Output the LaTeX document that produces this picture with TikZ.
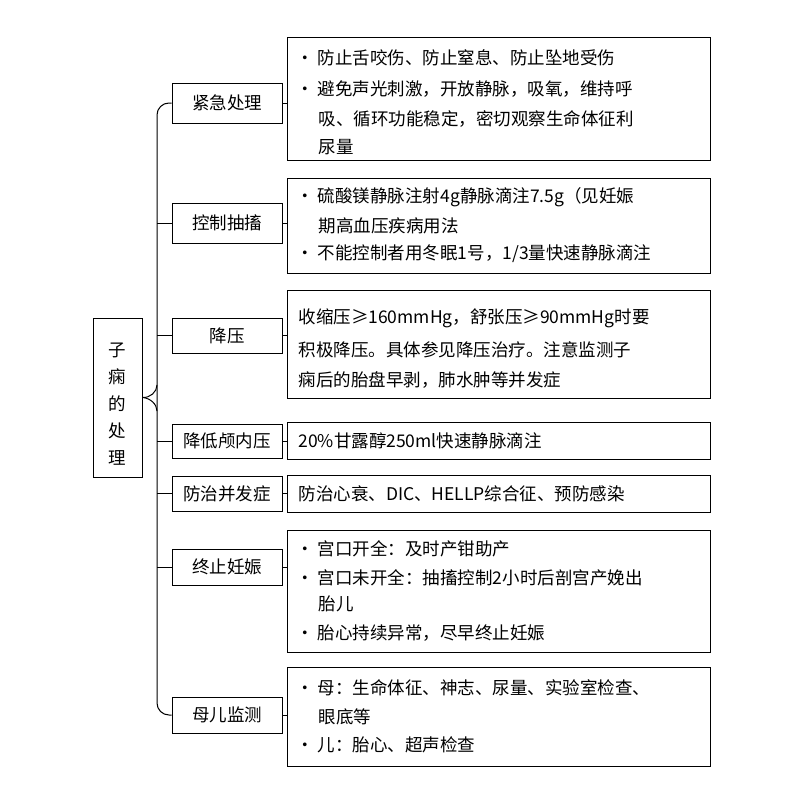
\documentclass[tikz,border=0pt]{standalone}
\usepackage{fontspec}
\setmainfont{Noto Sans CJK SC}
\begin{document}
\begin{tikzpicture}[x=1pt,y=-1pt,line width=1pt,
  bx/.style={draw,inner sep=0pt},
  tx/.style={anchor=west,inner sep=0pt,font=\fontsize{17.5}{20}\selectfont},
  lbl/.style={font=\fontsize{17.5}{20}\selectfont}]
\useasboundingbox[fill=white] (0,0) rectangle (800,800);
% root
\node[bx,minimum width=49pt,minimum height=159pt] (root) at (117.5,397.5) {};
\node[lbl,align=center,font=\fontsize{17.5}{27}\selectfont] (rt) at (117,404) {子\\痫\\的\\处\\理};
% branches
\foreach \n/\y/\h/\t in {b1/103/40/紧急处理,b2/223/40/控制抽搐,b3/335.5/35/降压,b4/441/34/降低颅内压,b5/493.5/35/防治并发症,b6/567/36/终止妊娠,b7/715/36/母儿监测}
  \node[bx,minimum width=110pt,minimum height=\h pt,lbl] (\n) at (227,\y) {\t};
% details
\foreach \n/\ya/\yb in {d1/38/160,d2/178/273,d3/290/398,d4/422/459,d5/475/512,d6/530/652,d7/667/766}
  \node[bx,minimum width=423pt,minimum height={(\yb-\ya)*1pt}] (\n) at (498.5,{(\ya+\yb)/2}) {};
% brace
\coordinate (c) at (157,398);
\draw[rounded corners=12] (b1.west) -| (c) |- (b7.west);
\foreach \n in {b2,b3,b4,b5,b6} \draw (c |- \n.west) -- (\n.west);
\draw (root.east) .. controls (150,398) and (157,392) .. (157,385);
\draw (root.east) .. controls (150,398) and (157,404) .. (157,411);
% links
\foreach \i in {1,...,7} \draw (b\i.east) -- (b\i.east -| d\i.west);
% texts
\foreach \y/\t in {58/{· 防止舌咬伤、防止窒息、防止坠地受伤}, 89/{· 避免声光刺激，开放静脉，吸氧，维持呼},
  197/{· 硫酸镁静脉注射4g静脉滴注7.5g（见妊娠}, 254/{· 不能控制者用冬眠1号，1/3量快速静脉滴注},
  549/{· 宫口开全：及时产钳助产}, 578/{· 宫口未开全：抽搐控制2小时后剖宫产娩出}, 633/{· 胎心持续异常，尽早终止妊娠},
  688/{· 母：生命体征、神志、尿量、实验室检查、}, 745/{· 儿：胎心、超声检查}}
  \node[tx] at (296,\y) {\t};
\foreach \y/\t in {119/{吸、循环功能稳定，密切观察生命体征利}, 147/{尿量}, 226/{期高血压疾病用法}, 604/{胎儿}, 717/{眼底等}}
  \node[tx] at (318,\y) {\t};
\foreach \y/\t in {318/{收缩压≥160mmHg，舒张压≥90mmHg时要}, 350/{积极降压。具体参见降压治疗。注意监测子}, 380/{痫后的胎盘早剥，肺水肿等并发症}, 441/{20\%甘露醇250ml快速静脉滴注}, 494/{防治心衰、DIC、HELLP综合征、预防感染}}
  \node[tx] at (298,\y) {\t};
\end{tikzpicture}
\end{document}
